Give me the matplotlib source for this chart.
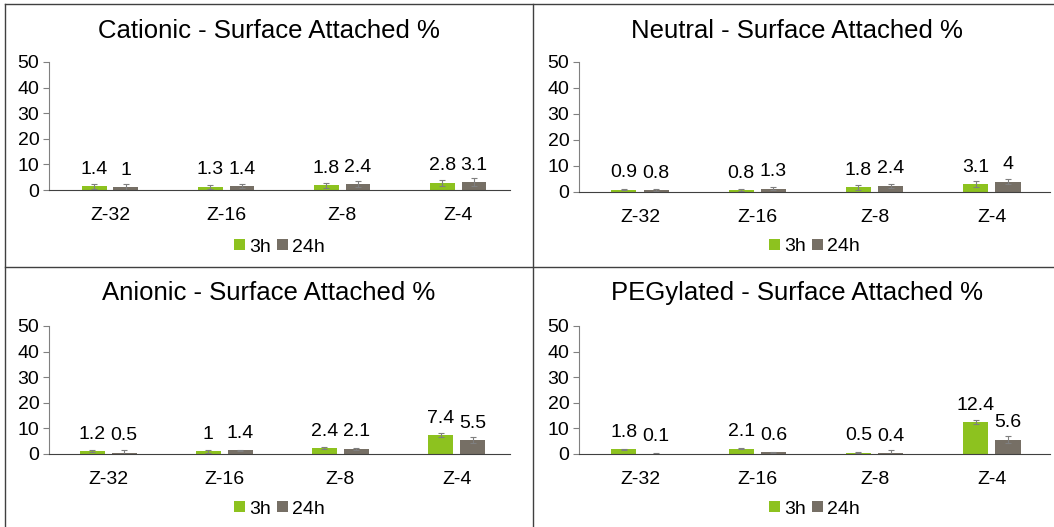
import numpy as np
import matplotlib.pyplot as plt
from matplotlib.lines import Line2D

plt.rcParams['font.family'] = ['Liberation Sans', 'DejaVu Sans']

# data
categories = ['Z-32', 'Z-16', 'Z-8', 'Z-4']
titles = ['Cationic - Surface Attached %', 'Neutral - Surface Attached %',
          'Anionic - Surface Attached %', 'PEGylated - Surface Attached %']

cat_3h = [1.4, 1.3, 1.8, 2.8]
cat_24h = [1, 1.4, 2.4, 3.1]
cat_3h_err = [0.9, 0.8, 1.0, 1.1]
cat_24h_err = [1.2, 0.8, 1.2, 1.4]

neu_3h = [0.9, 0.8, 1.8, 3.1]
neu_24h = [0.8, 1.3, 2.4, 4]
neu_3h_err = [0.3, 0.5, 1.0, 1.2]
neu_24h_err = [0.4, 0.5, 0.8, 1.0]

ani_3h = [1.2, 1, 2.4, 7.4]
ani_24h = [0.5, 1.4, 2.1, 5.5]
ani_3h_err = [0.3, 0.7, 0.4, 0.9]
ani_24h_err = [1.0, 0.2, 0.4, 1.2]

peg_3h = [1.8, 2.1, 0.5, 12.4]
peg_24h = [0.1, 0.6, 0.4, 5.6]
peg_3h_err = [0.1, 0.2, 0.1, 0.8]
peg_24h_err = [0.2, 0.3, 1.2, 1.3]

panels = [
    (cat_3h, cat_3h_err, cat_24h, cat_24h_err),
    (neu_3h, neu_3h_err, neu_24h, neu_24h_err),
    (ani_3h, ani_3h_err, ani_24h, ani_24h_err),
    (peg_3h, peg_3h_err, peg_24h, peg_24h_err),
]

green = '#8DC21F'
gray = '#766F65'

W, H = 1054, 527
fig = plt.figure(figsize=(W / 100, H / 100), dpi=100)

# axes boxes in pixels: (left, top-of-50, right, y-of-0)
boxes = [(49, 62, 510, 190), (579, 62, 1050, 192),
         (49, 326, 510, 454), (579, 326, 1050, 454)]
xlims = [(-0.526, 3.448), (-0.52, 3.495), (-0.51, 3.46), (-0.52, 3.495)]
title_y = [31, 31, 293, 293]
legend_y = [247, 247, 509, 509]
panel_x = [5, 533, 5, 533]

x = np.arange(len(categories))
bw = 0.215
ekw = dict(ecolor='#7f7f7f', elinewidth=0.8, capsize=2.5, capthick=0.8)
for i, (v3, e3, v24, e24) in enumerate(panels):
    l, t, r, b = boxes[i]
    ax = fig.add_axes([l / W, 1 - b / H, (r - l) / W, (b - t) / H])
    b1 = ax.bar(x - bw / 2 - 0.03, v3, bw, color=green, label='3h', yerr=e3, error_kw=ekw)
    b2 = ax.bar(x + bw / 2 + 0.03, v24, bw, color=gray, label='24h', yerr=e24, error_kw=ekw)
    for bars, vals in ((b1, v3), (b2, v24)):
        for rect, v in zip(bars, vals):
            ax.annotate(f'{v:g}', (rect.get_x() + rect.get_width() / 2, v),
                        xytext=(0, 6), textcoords='offset points',
                        ha='center', va='bottom', fontsize=14)
    ax.set_xlim(*xlims[i])
    ax.set_ylim(0, 50)
    ax.set_yticks([0, 10, 20, 30, 40, 50])
    ax.set_xticks(x)
    ax.set_xticklabels(categories)
    ax.tick_params(axis='x', length=0, labelsize=14, pad=12)
    ax.tick_params(axis='y', length=4, width=0.8, color='#808080', labelsize=14, pad=3)
    for s in ('top', 'right'):
        ax.spines[s].set_visible(False)
    ax.spines['left'].set_color('#808080')
    ax.spines['bottom'].set_color('#404040')
    ax.patch.set_visible(False)
    ax.legend(loc='center', bbox_to_anchor=(0.5, -(legend_y[i] - b) / (b - t)), ncol=2,
              frameon=False, fontsize=14, handlelength=0.55, handleheight=0.55,
              handletextpad=0.2, columnspacing=0.35, borderpad=0)
    cx = (panel_x[i] + panel_x[i] + 528) / 2
    fig.text(cx / W, 1 - title_y[i] / H, titles[i], ha='center', va='center', fontsize=18.5)

# panel frame lines
def hline(y, x0, x1):
    fig.add_artist(Line2D([x0 / W, x1 / W], [1 - y / H, 1 - y / H], color='#404040', lw=1))

def vline(xp, y0, y1):
    fig.add_artist(Line2D([xp / W, xp / W], [1 - y0 / H, 1 - y1 / H], color='#404040', lw=1))

hline(4, 5, 1054)
hline(267, 5, 1054)
vline(5, 4, 527)
vline(533, 4, 527)

fig.savefig('out.png', dpi=100)
